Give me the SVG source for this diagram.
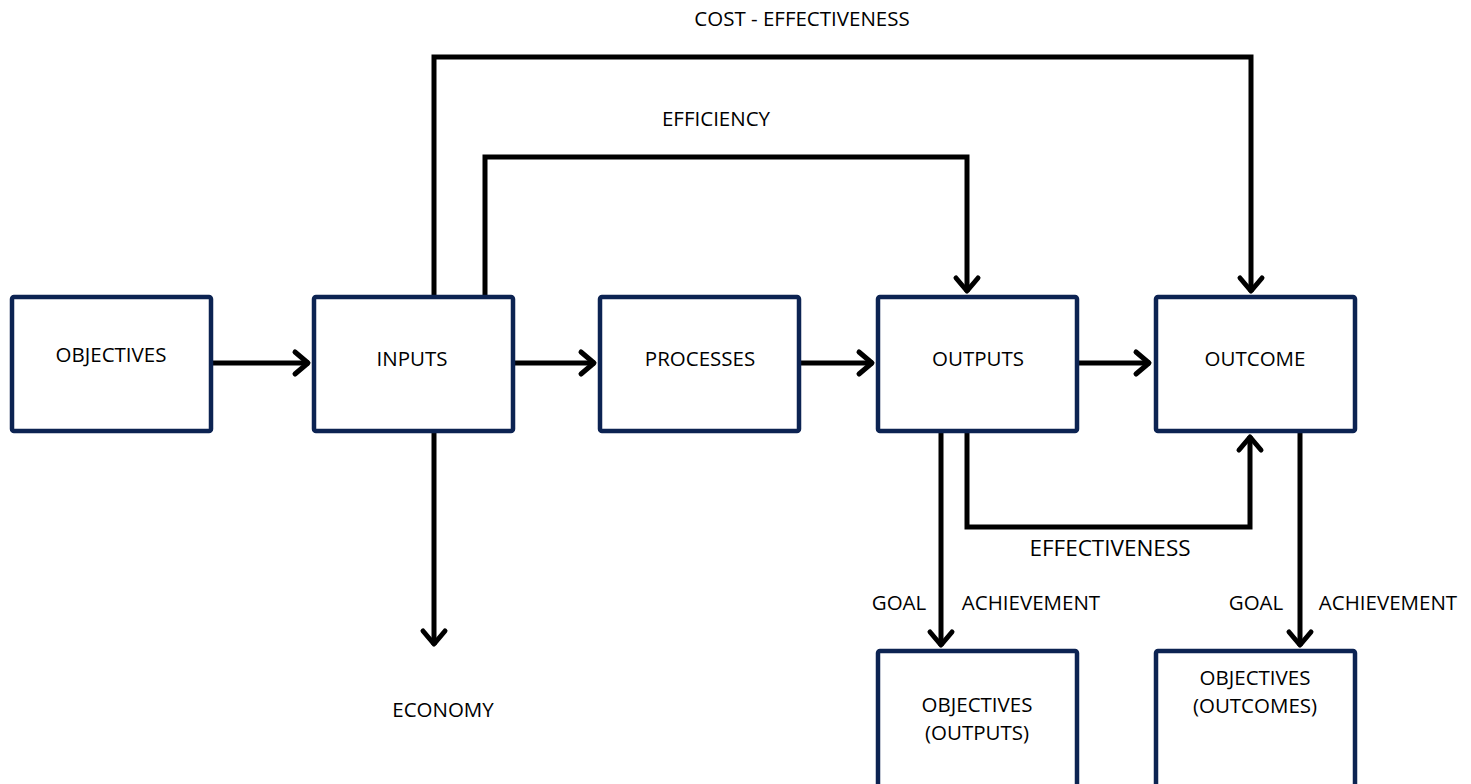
<svg xmlns="http://www.w3.org/2000/svg" width="1471" height="784" viewBox="0 0 1471 784">
<style>
.box{fill:#fff;stroke:#0c2352;stroke-width:4.5}
.c{fill:none;stroke:#000;stroke-width:5;stroke-linejoin:miter}
.t{font-family:"Open Sans","Noto Sans",sans-serif;font-size:20.5px;fill:#000;text-anchor:middle}
.big{font-size:22.5px}
</style>
<defs>
<marker id="ah" markerUnits="userSpaceOnUse" markerWidth="40" markerHeight="40" viewBox="-20 -20 40 40" refX="1" refY="0" orient="auto">
<path d="M-13,-11 L0,0 L-13,11" fill="none" stroke="#000" stroke-width="5" stroke-linecap="round" stroke-linejoin="round"/>
</marker>
</defs>
<rect width="1471" height="784" fill="#fff"/>
<g id="connectors">
<path class="c" d="M213,363 H309" marker-end="url(#ah)"/>
<path class="c" d="M515,363 H595" marker-end="url(#ah)"/>
<path class="c" d="M801,363 H873" marker-end="url(#ah)"/>
<path class="c" d="M1078,363 H1150" marker-end="url(#ah)"/>
<path class="c" d="M434,433 V645" marker-end="url(#ah)"/>
<path class="c" d="M434,296 V57 H1251 V292" marker-end="url(#ah)"/>
<path class="c" d="M485,296 V157 H967 V292" marker-end="url(#ah)"/>
<path class="c" d="M967,433 V527 H1250 V436" marker-end="url(#ah)"/>
<path class="c" d="M941,433 V646" marker-end="url(#ah)"/>
<path class="c" d="M1300,433 V646" marker-end="url(#ah)"/>
</g>
<g id="objectives"><rect class="box" x="12" y="297" width="199" height="134" rx="2"/><text class="t" x="111" y="362">OBJECTIVES</text></g>
<g id="inputs"><rect class="box" x="314" y="297" width="199" height="134" rx="2"/><text class="t" x="412" y="366">INPUTS</text></g>
<g id="processes"><rect class="box" x="600" y="297" width="199" height="134" rx="2"/><text class="t" x="700" y="366">PROCESSES</text></g>
<g id="outputs"><rect class="box" x="878" y="297" width="199" height="134" rx="2"/><text class="t" x="978" y="366">OUTPUTS</text></g>
<g id="outcome"><rect class="box" x="1156" y="297" width="199" height="134" rx="2"/><text class="t" x="1255" y="366">OUTCOME</text></g>
<g id="obj-outputs"><rect class="box" x="878" y="651" width="199" height="140" rx="2"/><text class="t" x="977" y="712">OBJECTIVES</text><text class="t" x="977" y="740">(OUTPUTS)</text></g>
<g id="obj-outcomes"><rect class="box" x="1156" y="651" width="199" height="140" rx="2"/><text class="t" x="1255" y="685">OBJECTIVES</text><text class="t" x="1255" y="713">(OUTCOMES)</text></g>
<g id="labels">
<text class="t" x="802" y="26">COST - EFFECTIVENESS</text>
<text class="t" x="716" y="126">EFFICIENCY</text>
<text class="t big" x="1110" y="556">EFFECTIVENESS</text>
<text class="t" x="443" y="717">ECONOMY</text>
<text class="t" x="899" y="610">GOAL</text>
<text class="t" x="1031" y="610">ACHIEVEMENT</text>
<text class="t" x="1256" y="610">GOAL</text>
<text class="t" x="1388" y="610">ACHIEVEMENT</text>
</g>
</svg>
